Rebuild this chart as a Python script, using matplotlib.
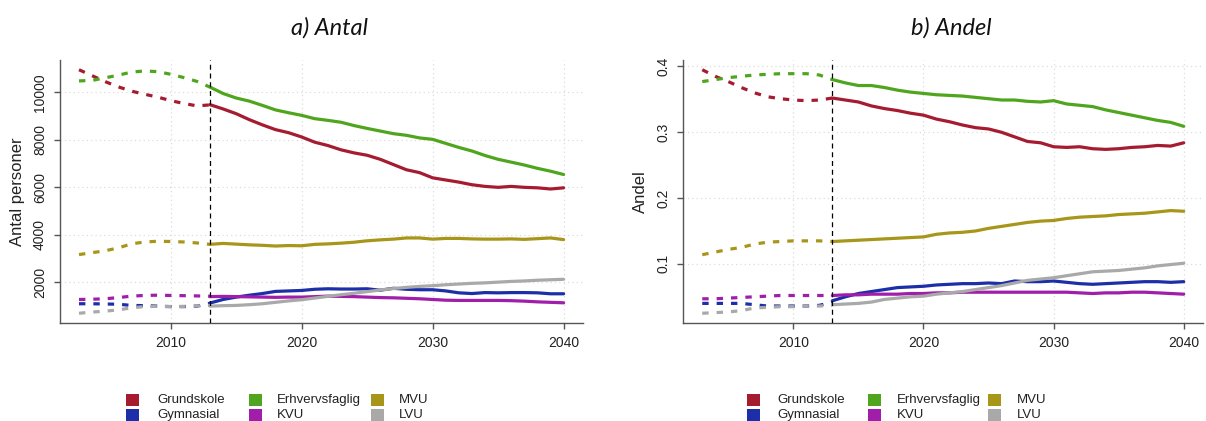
import matplotlib
matplotlib.use("Agg")
import matplotlib.pyplot as plt
from matplotlib.patches import Rectangle
import numpy as np

# ---------------- data ----------------
hist_years = list(range(2003, 2014))
proj_years = list(range(2013, 2041))

categories = ["Grundskole", "Gymnasial", "Erhvervsfaglig", "KVU", "MVU", "LVU"]
colors = ["#A51C30", "#1C2FA8", "#4FA61E", "#A01EAA", "#A8961A", "#A9A9A9"]

# a) Antal - historical (2003-2013)
antal_hist = {
    "Grundskole":     [10950, 10700, 10450, 10230, 10050, 9920, 9800, 9650, 9530, 9430, 9470],
    "Gymnasial":      [1100, 1100, 1090, 1080, 1030, 1020, 1000, 980, 980, 1000, 1120],
    "Erhvervsfaglig": [10480, 10500, 10610, 10720, 10850, 10900, 10870, 10760, 10620, 10460, 10220],
    "KVU":            [1280, 1290, 1310, 1360, 1420, 1450, 1460, 1450, 1440, 1430, 1420],
    "MVU":            [3170, 3250, 3330, 3450, 3620, 3700, 3730, 3720, 3700, 3660, 3600],
    "LVU":            [700, 750, 790, 840, 930, 980, 990, 980, 990, 1010, 1030],
}
# a) Antal - projection (2013-2040)
antal_proj = {
    "Grundskole": [9480, 9300, 9100, 8850, 8630, 8430, 8300, 8120, 7900, 7760, 7580, 7450, 7350, 7180,
                   6960, 6740, 6620, 6400, 6310, 6220, 6110, 6040, 6000, 6040, 6000, 5980, 5930, 5980],
    "Gymnasial": [1130, 1280, 1380, 1460, 1530, 1620, 1640, 1660, 1710, 1730, 1720, 1720, 1730, 1670,
                  1750, 1710, 1690, 1690, 1640, 1560, 1530, 1570, 1560, 1570, 1570, 1560, 1520, 1520],
    "Erhvervsfaglig": [10220, 9950, 9760, 9630, 9450, 9260, 9140, 9030, 8890, 8820, 8740, 8600, 8480, 8370,
                       8260, 8190, 8080, 8020, 7850, 7680, 7530, 7340, 7180, 7060, 6940, 6800, 6680, 6540],
    "KVU": [1400, 1410, 1400, 1390, 1380, 1370, 1380, 1380, 1400, 1420, 1410, 1400, 1380, 1360,
            1350, 1330, 1310, 1280, 1250, 1240, 1240, 1240, 1240, 1230, 1210, 1180, 1160, 1140],
    "MVU": [3600, 3640, 3610, 3580, 3560, 3530, 3550, 3540, 3600, 3620, 3650, 3690, 3750, 3790,
            3820, 3870, 3870, 3820, 3850, 3850, 3830, 3820, 3820, 3830, 3810, 3840, 3870, 3800],
    "LVU": [1000, 1020, 1030, 1060, 1100, 1160, 1220, 1270, 1340, 1410, 1480, 1540, 1610, 1680,
            1740, 1790, 1830, 1860, 1900, 1930, 1960, 1980, 2010, 2040, 2060, 2090, 2110, 2130],
}

# b) Andel - historical (2003-2013)
andel_hist = {
    "Grundskole":     [0.395, 0.385, 0.377, 0.368, 0.360, 0.354, 0.351, 0.349, 0.348, 0.349, 0.352],
    "Gymnasial":      [0.040, 0.040, 0.040, 0.040, 0.038, 0.036, 0.036, 0.036, 0.036, 0.037, 0.042],
    "Erhvervsfaglig": [0.377, 0.380, 0.383, 0.385, 0.387, 0.388, 0.389, 0.389, 0.389, 0.387, 0.380],
    "KVU":            [0.047, 0.047, 0.048, 0.049, 0.050, 0.051, 0.052, 0.052, 0.052, 0.052, 0.052],
    "MVU":            [0.114, 0.118, 0.122, 0.125, 0.130, 0.133, 0.134, 0.135, 0.135, 0.135, 0.134],
    "LVU":            [0.025, 0.026, 0.027, 0.029, 0.033, 0.034, 0.035, 0.035, 0.036, 0.036, 0.037],
}
# b) Andel - projection (2013-2040)
andel_proj = {
    "Grundskole": [0.352, 0.349, 0.346, 0.340, 0.336, 0.333, 0.329, 0.326, 0.320, 0.316, 0.311, 0.307, 0.305, 0.300,
                   0.293, 0.286, 0.284, 0.278, 0.277, 0.278, 0.275, 0.274, 0.275, 0.277, 0.278, 0.280, 0.279, 0.284],
    "Gymnasial": [0.044, 0.050, 0.055, 0.058, 0.061, 0.064, 0.065, 0.066, 0.068, 0.069, 0.070, 0.070, 0.071, 0.070,
                  0.074, 0.073, 0.073, 0.074, 0.072, 0.070, 0.069, 0.070, 0.071, 0.072, 0.073, 0.073, 0.072, 0.073],
    "Erhvervsfaglig": [0.380, 0.375, 0.371, 0.371, 0.368, 0.364, 0.361, 0.359, 0.357, 0.356, 0.355, 0.353, 0.351, 0.349,
                       0.349, 0.347, 0.346, 0.348, 0.343, 0.341, 0.339, 0.334, 0.330, 0.326, 0.322, 0.318, 0.315, 0.309],
    "KVU": [0.052, 0.053, 0.053, 0.054, 0.054, 0.054, 0.055, 0.055, 0.056, 0.056, 0.057, 0.057, 0.057, 0.057,
            0.057, 0.057, 0.057, 0.057, 0.057, 0.056, 0.055, 0.056, 0.056, 0.057, 0.057, 0.056, 0.055, 0.054],
    "MVU": [0.134, 0.135, 0.136, 0.137, 0.138, 0.139, 0.140, 0.141, 0.145, 0.147, 0.148, 0.150, 0.154, 0.157,
            0.160, 0.163, 0.165, 0.166, 0.169, 0.171, 0.172, 0.173, 0.175, 0.176, 0.177, 0.179, 0.181, 0.180],
    "LVU": [0.038, 0.039, 0.040, 0.042, 0.046, 0.048, 0.050, 0.051, 0.054, 0.056, 0.058, 0.061, 0.064, 0.067,
            0.071, 0.075, 0.077, 0.079, 0.082, 0.085, 0.088, 0.089, 0.090, 0.092, 0.094, 0.097, 0.099, 0.101],
}

titles = ["a) Antal", "b) Andel"]
ylabels = ["Antal personer", "Andel"]
x_ticks = [2010, 2020, 2030, 2040]
y_ticks_antal = [2000, 4000, 6000, 8000, 10000]
y_ticks_andel = [0.1, 0.2, 0.3, 0.4]
y_ticklabels_andel = ["0.1", "0.2", "0.3", "0.4"]
split_year = 2013

# ---------------- figure ----------------
W, H = 1206, 421
fig = plt.figure(figsize=(W / 100, H / 100), dpi=100)
plt.rcParams['font.family'] = ['Liberation Sans', 'DejaVu Sans']

axc = "#555555"


def px_rect(x0, x1, y0, y1):
    return [x0 / W, 1 - y1 / H, (x1 - x0) / W, (y1 - y0) / H]


ax1 = fig.add_axes(px_rect(59.6, 583, 60, 323))
ax2 = fig.add_axes(px_rect(683, 1203, 60, 323))

panels = [
    (ax1, antal_hist, antal_proj, y_ticks_antal, [str(v) for v in y_ticks_antal]),
    (ax2, andel_hist, andel_proj, y_ticks_andel, y_ticklabels_andel),
]

for ax, hist, proj, yt, ytl in panels:
    for cat, col in zip(categories, colors):
        ax.plot(hist_years, hist[cat], color=col, lw=2.3, dashes=(2.0, 2.5),
                dash_capstyle='butt', solid_capstyle='round', zorder=3)
        ax.plot(proj_years, proj[cat], color=col, lw=2.3, solid_capstyle='round', zorder=3)
    allv = np.concatenate([np.concatenate([hist[c], proj[c]]) for c in categories])
    lo, hi = allv.min(), allv.max()
    pad = 0.04 * (hi - lo)
    ax.set_ylim(lo - pad, hi + pad)
    ax.set_xlim(2003 - 0.04 * 37, 2040 + 0.04 * 37)
    ax.axvline(split_year, color="black", lw=0.9, dashes=(4, 3), zorder=4)
    ax.set_xticks(x_ticks)
    ax.set_yticks(yt)
    ax.set_yticklabels(ytl, rotation=90, va='center')
    ax.grid(True, color="#DCDCDC", lw=0.9, dashes=(1, 2.5))
    ax.set_axisbelow(True)
    for s in ["top", "right"]:
        ax.spines[s].set_visible(False)
    for s in ["left", "bottom"]:
        ax.spines[s].set_color(axc)
        ax.spines[s].set_linewidth(1.0)
    ax.tick_params(axis='both', colors=axc, labelcolor="#222222", labelsize=10,
                   length=4.5, width=1.0, direction='out')
    ax.tick_params(axis='x', pad=5)
    ax.tick_params(axis='y', pad=4.5)

ax1.set_ylabel(ylabels[0], fontsize=12, color="#222222", labelpad=6)
ax2.set_ylabel(ylabels[1], fontsize=12, color="#222222", labelpad=6)

# titles
fig.text(330 / W, 1 - 28 / H, titles[0], fontsize=17, style='italic',
         family=['Lato', 'DejaVu Sans'], ha='center', va='center', color="#111111")
fig.text(951 / W, 1 - 28 / H, titles[1], fontsize=17, style='italic',
         family=['Lato', 'DejaVu Sans'], ha='center', va='center', color="#111111")

# legends (column-major: Grundskole/Gymnasial, Erhvervsfaglig/KVU, MVU/LVU)
legend_cols = [[(126, 157), (249, 277), (371, 399)],
               [(747, 777), (868, 897), (988, 1017)]]
rows_y = [400, 415]
for cols in legend_cols:
    for i, (cat, col) in enumerate(zip(categories, colors)):
        c, r = i // 2, i % 2
        sx, tx = cols[c]
        yc = rows_y[r]
        fig.patches.append(Rectangle((sx / W, 1 - (yc + 6) / H), 12.5 / W, 12 / H,
                                     transform=fig.transFigure, color=col, lw=0))
        fig.text(tx / W, 1 - yc / H, cat, fontsize=9.5, ha='left', va='center', color="#222222")

fig.savefig("out.png", dpi=100)
